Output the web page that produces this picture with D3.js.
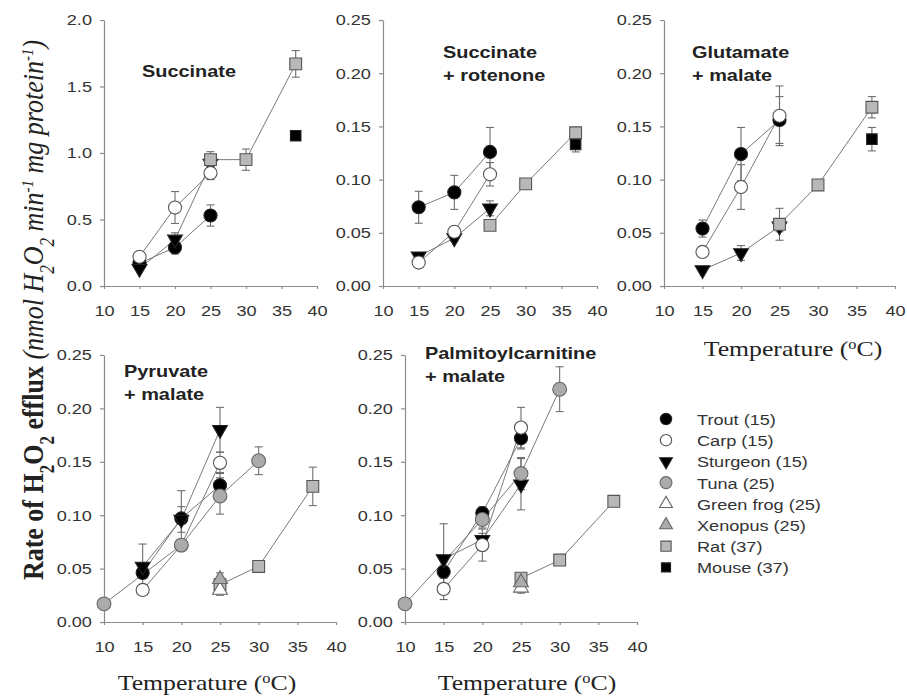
<!DOCTYPE html>
<html>
<head>
<meta charset="utf-8">
<script src="https://d3js.org/d3.v7.min.js"></script>
<style>
  body { margin: 0; background: #fff; }
  .tick text { font: 15.5px 'Liberation Sans', Arial, sans-serif; fill: #333; }
  .domain, .tick line { stroke: #8c8c8c; stroke-width: 1.2; }
  .title { font: bold 17px 'Liberation Sans', Arial, sans-serif; fill: #222; }
  .legend text { font: 15.5px 'Liberation Sans', Arial, sans-serif; fill: #333; }
  .serif { font-family: 'Liberation Serif', 'Times New Roman', serif; fill: #222; }
</style>
</head>
<body>
<script>
// species (acclimation temperature)
var species = ['Trout (15)', 'Carp (15)', 'Sturgeon (15)', 'Tuna (25)', 'Green frog (25)', 'Xenopus (25)', 'Rat (37)', 'Mouse (37)'];
var xTicks = [10, 15, 20, 25, 30, 35, 40];

// each row: species index, assay temperature, rate, error
var succinate = [
  [0, 15, 0.17, 0.02], [0, 20, 0.29, 0.05], [0, 25, 0.53, 0.08],
  [1, 15, 0.22, 0.03], [1, 20, 0.59, 0.12], [1, 25, 0.85, 0.05],
  [2, 15, 0.13, 0.02], [2, 20, 0.35, 0.05], [2, 25, 0.92, 0.05],
  [6, 25, 0.95, 0.06], [6, 30, 0.95, 0.08], [6, 37, 1.67, 0.10],
  [7, 37, 1.13, 0.03]
];
var succinateRotenone = [
  [0, 15, 0.074, 0.015], [0, 20, 0.088, 0.016], [0, 25, 0.126, 0.023],
  [1, 15, 0.022, 0.003], [1, 20, 0.051, 0.004], [1, 25, 0.105, 0.011],
  [2, 15, 0.028, 0.003], [2, 20, 0.045, 0.003], [2, 25, 0.073, 0.007],
  [6, 25, 0.057, 0.004], [6, 30, 0.096, 0.003], [6, 37, 0.144, 0.005],
  [7, 37, 0.133, 0.007]
];
var glutamateMalate = [
  [0, 15, 0.054, 0.008], [0, 20, 0.124, 0.025], [0, 25, 0.156, 0.022],
  [1, 15, 0.032, 0.005], [1, 20, 0.093, 0.021], [1, 25, 0.160, 0.028],
  [2, 15, 0.015, 0.002], [2, 20, 0.031, 0.007], [2, 25, 0.056, 0.005],
  [6, 25, 0.058, 0.015], [6, 30, 0.095, 0.004], [6, 37, 0.168, 0.010],
  [7, 37, 0.138, 0.011]
];
var pyruvateMalate = [
  [3, 10, 0.017, 0.002], [3, 20, 0.072, 0.004], [3, 25, 0.118, 0.017], [3, 30, 0.151, 0.013],
  [0, 15, 0.046, 0.005], [0, 20, 0.097, 0.026], [0, 25, 0.128, 0.012],
  [1, 15, 0.030, 0.004], [1, 20, 0.072, 0.005], [1, 25, 0.149, 0.010],
  [2, 15, 0.052, 0.021], [2, 20, 0.096, 0.012], [2, 25, 0.180, 0.021],
  [4, 25, 0.030, 0.005], [5, 25, 0.040, 0.006],
  [6, 25, 0.035, 0.004], [6, 30, 0.052, 0.002], [6, 37, 0.127, 0.018]
];
var palmitoylMalate = [
  [3, 10, 0.017, 0.002], [3, 20, 0.096, 0.008], [3, 25, 0.139, 0.015], [3, 30, 0.218, 0.021],
  [0, 15, 0.047, 0.005], [0, 20, 0.102, 0.006], [0, 25, 0.172, 0.010],
  [1, 15, 0.031, 0.010], [1, 20, 0.072, 0.015], [1, 25, 0.182, 0.019],
  [2, 15, 0.059, 0.033], [2, 20, 0.077, 0.006], [2, 25, 0.129, 0.024],
  [4, 25, 0.032, 0.005], [5, 25, 0.037, 0.004],
  [6, 25, 0.041, 0.003], [6, 30, 0.058, 0.002], [6, 37, 0.113, 0.004]
];
var titles = [['Succinate'], ['Succinate', '+ rotenone'], ['Glutamate', '+ malate'], ['Pyruvate', '+ malate'], ['Palmitoylcarnitine', '+ malate']];
</script>
<script>
var W = 907, H = 699, K = 1.17; // K: horizontal text stretch seen in the figure

var svg = d3.select('body').append('svg')
  .attr('width', W).attr('height', H)
  .style('background', '#fff');

// marker look for each species
var looks = [
  { type: d3.symbolCircle, fill: '#000', stroke: '#222', size: 135, rot: 0 },
  { type: d3.symbolCircle, fill: '#fff', stroke: '#555', size: 135, rot: 0 },
  { type: d3.symbolTriangle, fill: '#000', stroke: '#222', size: 95, rot: 180 },
  { type: d3.symbolCircle, fill: '#ababab', stroke: '#666', size: 150, rot: 0 },
  { type: d3.symbolTriangle, fill: '#fff', stroke: '#666', size: 95, rot: 0 },
  { type: d3.symbolTriangle, fill: '#ababab', stroke: '#666', size: 95, rot: 0 },
  { type: d3.symbolSquare, fill: '#b8b8b8', stroke: '#555', size: 140, rot: 0 },
  { type: d3.symbolSquare, fill: '#000', stroke: '#222', size: 110, rot: 0 }
];
var drawOrder = [0, 2, 1, 3, 6, 7, 4, 5];

var panels = [
  { data: succinate, title: titles[0], yMax: 2.0, yTicks: [0, 0.5, 1, 1.5, 2], fmt: '.1f', xr: [104, 317], yr: [286, 20], tx: 142, ty: 77 },
  { data: succinateRotenone, title: titles[1], yMax: 0.25, fmt: '.2f', xr: [383, 597], yr: [286, 20], tx: 443, ty: 58 },
  { data: glutamateMalate, title: titles[2], yMax: 0.25, fmt: '.2f', xr: [664, 895], yr: [286, 20], tx: 692, ty: 58, xlab: [793, 356] },
  { data: pyruvateMalate, title: titles[3], yMax: 0.25, fmt: '.2f', xr: [104, 336], yr: [622, 355], tx: 124, ty: 377, xlab: [207, 690] },
  { data: palmitoylMalate, title: titles[4], yMax: 0.25, fmt: '.2f', xr: [405, 637], yr: [622, 355], tx: 425, ty: 359, xlab: [527, 690] }
];

function symbolPath(i, scale) {
  return d3.symbol().type(looks[i].type).size(looks[i].size * (scale || 1))();
}

panels.forEach(function(p) {
  var x = d3.scaleLinear().domain([10, 40]).range(p.xr);
  var y = d3.scaleLinear().domain([0, p.yMax]).range(p.yr);
  var g = svg.append('g');

  var yTicks = p.yTicks || [0, 0.05, 0.1, 0.15, 0.2, 0.25];

  //axes
  var ya = g.append('g').attr('transform', 'translate(' + p.xr[0] + ',0)')
    .call(d3.axisLeft(y).tickValues(yTicks).tickFormat(d3.format(p.fmt)).tickSize(4).tickSizeOuter(0).tickPadding(6.3));
  ya.selectAll('.tick text').attr('transform', 'scale(' + K + ',1)');

  var xa = g.append('g').attr('transform', 'translate(0,' + p.yr[0] + ')')
    .call(d3.axisBottom(x).tickValues(xTicks).tickSize(3).tickSizeOuter(0).tickPadding(16));
  xa.selectAll('.tick text').attr('transform', 'scale(' + K + ',1)');

  //title
  p.title.forEach(function(t, i) {
    g.append('text').attr('class', 'title')
      .attr('transform', 'translate(' + p.tx + ',' + (p.ty + i * 23) + ') scale(' + K + ',1)')
      .text(t);
  });

  //connecting lines per species
  var bySpecies = d3.group(p.data, function(d) { return d[0]; });
  var line = d3.line().x(function(d) { return x(d[1]); }).y(function(d) { return y(d[2]); });
  bySpecies.forEach(function(rows) {
    if (rows.length < 2) return;
    g.append('path')
      .attr('d', line(rows.slice().sort(function(a, b) { return a[1] - b[1]; })))
      .attr('fill', 'none').attr('stroke', '#7a7a7a').attr('stroke-width', 1);
  });

  //error bars
  var eb = g.selectAll('.err').data(p.data.filter(function(d) { return d[3] > 0.0025 * p.yMax * 4; }))
    .enter().append('g').attr('class', 'err');
  eb.append('line')
    .attr('x1', function(d) { return x(d[1]); }).attr('x2', function(d) { return x(d[1]); })
    .attr('y1', function(d) { return y(d[2] - d[3]); }).attr('y2', function(d) { return y(d[2] + d[3]); });
  eb.append('line')
    .attr('x1', function(d) { return x(d[1]) - 4; }).attr('x2', function(d) { return x(d[1]) + 4; })
    .attr('y1', function(d) { return y(d[2] + d[3]); }).attr('y2', function(d) { return y(d[2] + d[3]); });
  eb.append('line')
    .attr('x1', function(d) { return x(d[1]) - 4; }).attr('x2', function(d) { return x(d[1]) + 4; })
    .attr('y1', function(d) { return y(d[2] - d[3]); }).attr('y2', function(d) { return y(d[2] - d[3]); });
  eb.selectAll('line').attr('stroke', '#6e6e6e').attr('stroke-width', 1.1);

  //markers
  var pts = p.data.slice().sort(function(a, b) { return drawOrder.indexOf(a[0]) - drawOrder.indexOf(b[0]); });
  g.selectAll('.pt').data(pts).enter().append('path')
    .attr('class', 'pt')
    .attr('d', function(d) { return symbolPath(d[0]); })
    .attr('transform', function(d) { return 'translate(' + x(d[1]) + ',' + y(d[2]) + ') rotate(' + looks[d[0]].rot + ')'; })
    .attr('fill', function(d) { return looks[d[0]].fill; })
    .attr('stroke', function(d) { return looks[d[0]].stroke; })
    .attr('stroke-width', 1.1);

  //x axis label
  if (p.xlab) {
    var t = g.append('text').attr('class', 'serif')
      .attr('transform', 'translate(' + p.xlab[0] + ',' + p.xlab[1] + ') scale(' + K + ',1)')
      .attr('text-anchor', 'middle').style('font-size', '22px');
    t.append('tspan').text('Temperature (');
    t.append('tspan').attr('baseline-shift', 'super').style('font-size', '14px').text('o');
    t.append('tspan').text('C)');
  }
});

//y axis label
var yl = svg.append('text').attr('class', 'serif')
  .attr('transform', 'translate(43,310) rotate(-90) scale(1,' + K + ')')
  .attr('text-anchor', 'middle').style('font-size', '26px');
var parts = [
  ['Rate of H', 'b'], ['2', 'bsub'], ['O', 'b'], ['2', 'bsub'], [' efflux ', 'b'],
  ['(nmol H', 'i'], ['2', 'isub'], ['O', 'i'], ['2', 'isub'], [' min', 'i'], ['-1', 'isup'],
  [' mg protein', 'i'], ['-1', 'isup'], [')', 'i']
];
parts.forEach(function(pt) {
  var s = yl.append('tspan').text(pt[0]);
  if (pt[1].charAt(0) === 'b') s.style('font-weight', 'bold');
  else s.style('font-style', 'italic');
  if (pt[1].indexOf('sub') > 0) s.attr('baseline-shift', 'sub').style('font-size', '17px');
  if (pt[1].indexOf('sup') > 0) s.attr('baseline-shift', 'super').style('font-size', '15px');
});

//legend
var lg = svg.append('g').attr('class', 'legend');
species.forEach(function(name, i) {
  var cy = 419 + i * 21.2;
  lg.append('path')
    .attr('d', symbolPath(i, 0.75))
    .attr('transform', 'translate(666,' + cy + ') rotate(' + looks[i].rot + ')')
    .attr('fill', looks[i].fill).attr('stroke', looks[i].stroke).attr('stroke-width', 1.1);
  lg.append('text')
    .attr('transform', 'translate(697,' + (cy + 6) + ') scale(' + K + ',1)')
    .text(name);
});
</script>
</body>
</html>
